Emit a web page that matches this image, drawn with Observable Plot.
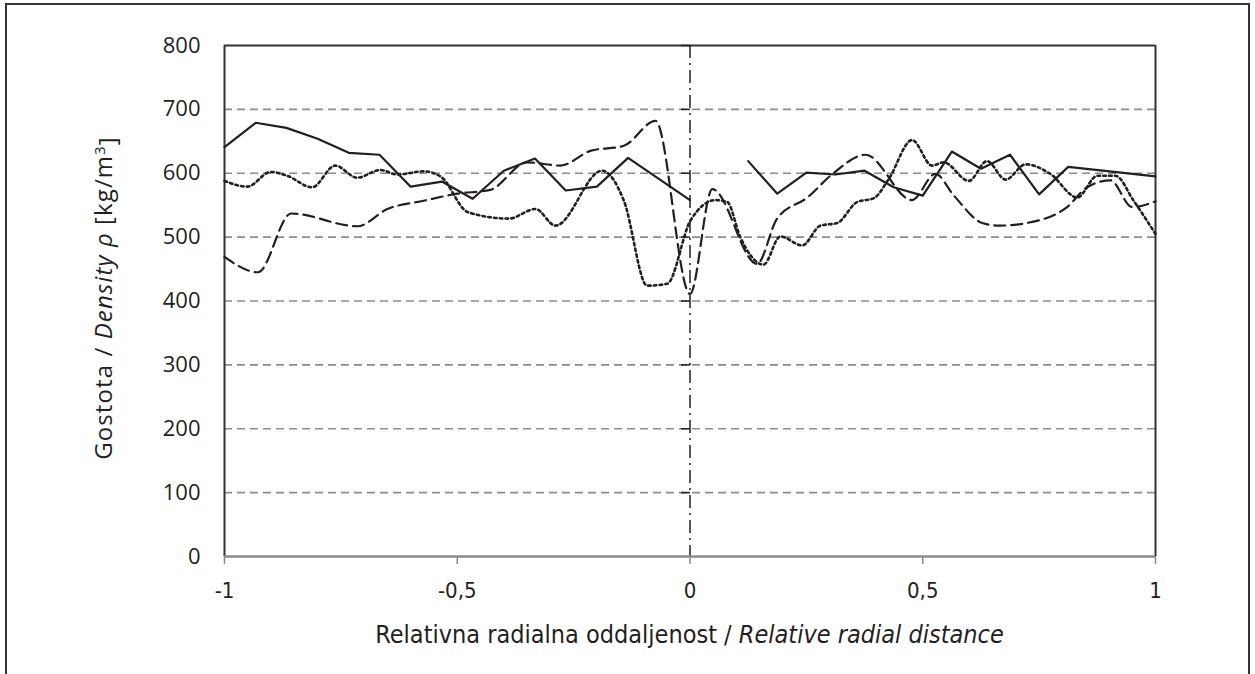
<!DOCTYPE html>
<html>
<head>
<meta charset="utf-8">
<script src="https://cdn.jsdelivr.net/npm/d3@7"></script>
<script src="https://cdn.jsdelivr.net/npm/@observablehq/plot@0.6"></script>
<style>
  html, body { margin: 0; padding: 0; background: #fff; }
  #wrap { position: relative; width: 1255px; height: 674px; overflow: hidden; }
  #frame { position: absolute; left: 5px; top: 3px; width: 1245px; height: 700px;
           border: 2px solid #333; box-sizing: border-box; pointer-events: none; }
  #chart { position: absolute; left: 0; top: 0; }
  .cond, .cond text { font-family: 'DejaVu Sans Condensed', 'Noto Sans', 'Open Sans', sans-serif !important; font-stretch: condensed; }
</style>
</head>
<body>
<div id="wrap">
  <div id="chart"></div>
  <div id="frame"></div>
</div>
<script>
// ---- Data ----
const solidX = [-1, -0.933, -0.867, -0.8, -0.733, -0.667, -0.6, -0.533, -0.467, -0.4, -0.333, -0.267, -0.2, -0.133, 0,
                0.0625, 0.125, 0.1875, 0.25, 0.3125, 0.375, 0.4375, 0.5, 0.5625, 0.625, 0.6875, 0.75, 0.8125, 1];
const solidY = [641, 679, 671, 654, 632, 629, 579, 587, 560, 604, 623, 573, 579, 624, 558,
                null, 619, 568, 601, 598, 604, 578, 565, 634, 607, 629, 567, 610, 595];

const dashedX = [-1, -0.928, -0.857, -0.715, -0.650, -0.572, -0.500, -0.429, -0.350, -0.278, -0.214, -0.142, -0.074, 0,
                 0.048, 0.144, 0.187, 0.252, 0.308, 0.377, 0.477, 0.527, 0.567, 0.628, 0.663, 0.753, 0.810, 0.853, 0.903, 0.950, 1];
const dashedY = [469, 445, 537, 517, 544, 557, 568, 574, 617, 612, 635, 643, 682, 411,
                 575, 458, 529, 562, 600, 629, 558, 599, 565, 522, 518, 527, 547, 578, 589, 547, 556];

const dottedX = [-1, -0.951, -0.901, -0.865, -0.812, -0.762, -0.715, -0.665, -0.629, -0.572, -0.536, -0.477, -0.389, -0.332,
                 -0.289, -0.189, -0.142, -0.092, -0.049, 0.001, 0.055, 0.080, 0.108, 0.158, 0.194, 0.241, 0.280, 0.316,
                 0.359, 0.395, 0.427, 0.477, 0.520, 0.545, 0.599, 0.638, 0.678, 0.721, 0.774, 0.832, 0.875, 0.914, 0.953, 1];
const dottedY = [588, 579, 602, 596, 578, 612, 593, 605, 598, 603, 595, 539, 529, 544,
                 518, 604, 557, 424, 427, 526, 558, 555, 500, 457, 501, 487, 518, 522,
                 555, 561, 591, 652, 612, 617, 588, 619, 590, 614, 599, 562, 596, 596, 557, 505];

const xTicks = [-1, -0.5, 0, 0.5, 1];
const yTicks = [0, 100, 200, 300, 400, 500, 600, 700, 800];
const gridLevels = [100, 200, 300, 400, 500, 600, 700];
const xLabelMain = "Relativna radialna oddaljenost / ";
const xLabelItalic = "Relative radial distance";
const yLabelMain = "Gostota / ";
const yLabelItalic = "Density ρ";
const yLabelUnit = " [kg/m";
const yLabelSup = "3";
const yLabelEnd = "]";

// ---- Build tables ----
const solid = solidX.map((x, i) => ({x, y: solidY[i]}));
const dashed = dashedX.map((x, i) => ({x, y: dashedY[i]}));
const dotted = dottedX.map((x, i) => ({x, y: dottedY[i]}));
const fmt = d => String(d).replace(".", ",");
const ink = "#231f20";

const leftTick = { draw(ctx) { ctx.moveTo(-9, 0); ctx.lineTo(0, 0); } };

const chart = Plot.plot({
  width: 1255,
  height: 674,
  marginLeft: 224,
  marginRight: 100,
  marginTop: 45,
  marginBottom: 118,
  style: { fontFamily: "'Open Sans', sans-serif", fontSize: "22px", color: ink, background: "transparent" },
  x: { domain: [-1, 1] },
  y: { domain: [0, 800] },
  marks: [
    Plot.ruleY(gridLevels, { stroke: "#8c8c8c", strokeWidth: 1.6, strokeDasharray: "8,5" }),
    Plot.ruleY([800], { stroke: "#333", strokeWidth: 2 }),
    Plot.ruleX([-1, 1], { stroke: "#333", strokeWidth: 2 }),
    Plot.ruleX([0], { stroke: ink, strokeWidth: 1.5, strokeDasharray: "13,5,2,5" }),
    Plot.dot(yTicks.slice(1), { x: () => 0, y: d => d, symbol: leftTick, stroke: ink, strokeWidth: 1.5, r: 4 }),
    Plot.ruleY([0], { stroke: "#8c8c8c", strokeWidth: 2.5 }),
    Plot.line(dotted, { x: "x", y: "y", stroke: ink, strokeWidth: 2.6, strokeDasharray: "2.6,3.2", curve: "monotone-x" }),
    Plot.line(dashed, { x: "x", y: "y", stroke: ink, strokeWidth: 2.2, strokeDasharray: "11,6", curve: "monotone-x" }),
    Plot.line(solid, { x: "x", y: "y", stroke: ink, strokeWidth: 2.2 }),
    Plot.axisX({ ticks: xTicks, tickFormat: fmt, tickSize: 8, tickPadding: 18, stroke: "#8c8c8c",
                 strokeWidth: 1.5, fontSize: 22, className: "xcond", label: null }),
    Plot.axisY({ ticks: yTicks, tickSize: 0, tickPadding: 24, fontSize: 22, label: null })
  ]
});
document.getElementById("chart").appendChild(chart);

const svg = d3.select(chart);
svg.selectAll("g[aria-label='x-axis tick label']").classed("cond", true);

// ---- Axis titles ----
const xt = svg.append("text")
  .attr("class", "cond")
  .attr("x", 689.5).attr("y", 643)
  .attr("text-anchor", "middle")
  .attr("fill", ink)
  .style("font-size", "25px");
xt.append("tspan").text(xLabelMain);
xt.append("tspan").style("font-style", "italic").text(xLabelItalic);

const yt = svg.append("text")
  .attr("transform", "translate(112,298) rotate(-90)")
  .attr("text-anchor", "middle")
  .attr("fill", ink)
  .style("font-family", "'Open Sans', sans-serif")
  .style("font-size", "24px")
  .style("letter-spacing", "1.1px");
yt.append("tspan").text(yLabelMain);
yt.append("tspan").style("font-style", "italic").text(yLabelItalic);
yt.append("tspan").text(yLabelUnit);
yt.append("tspan").attr("dy", "-0.45em").style("font-size", "15px").text(yLabelSup);
yt.append("tspan").attr("dy", "0.45em").text(yLabelEnd);
</script>
</body>
</html>
